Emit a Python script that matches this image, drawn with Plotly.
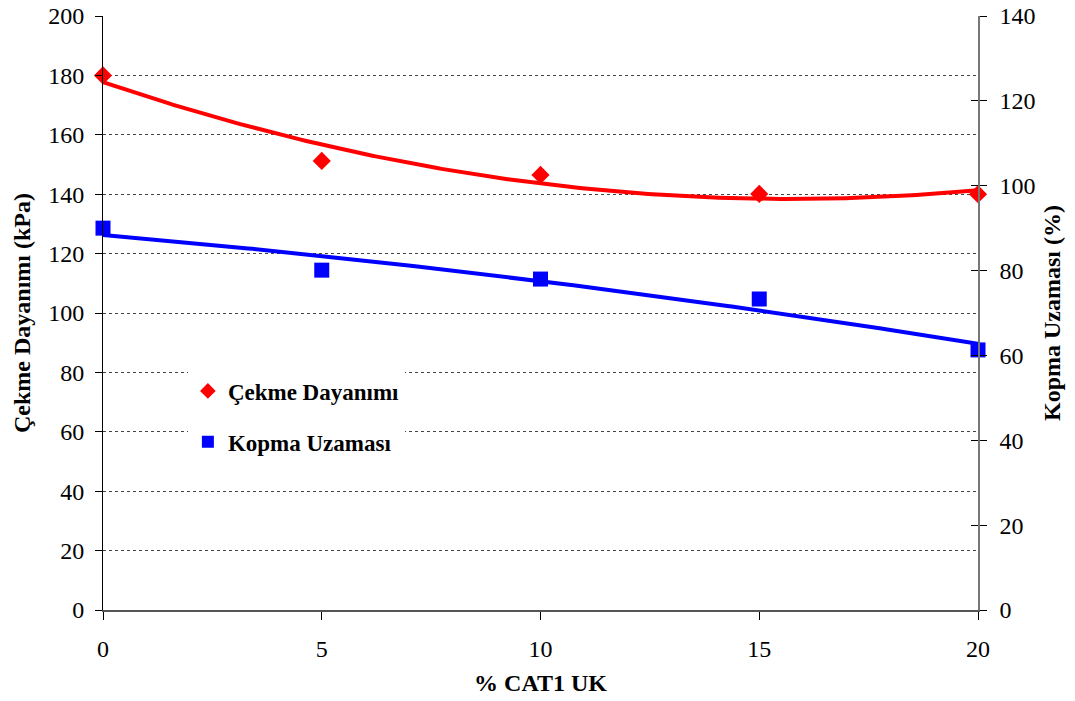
import numpy as np
import plotly.graph_objects as go

# CAT1 UK content (%)
cat1_uk = [0, 5, 10, 15, 20]
# Tensile strength (kPa), left axis
cekme_dayanimi = [180, 151.2, 146.5, 140.1, 140]
# Elongation at break (%), right axis
kopma_uzamasi = [90.0, 80.1, 78.0, 73.3, 61.3]

left_ticks = list(range(0, 201, 20))
right_ticks = list(range(0, 141, 20))
x_ticks = [0, 5, 10, 15, 20]

SERIF = "Liberation Serif, Times New Roman, serif"

# second-order polynomial trendlines
xs = np.linspace(0, 20, 200)
red_fit = np.polyval(np.polyfit(cat1_uk, cekme_dayanimi, 2), xs)
blue_fit = np.polyval(np.polyfit(cat1_uk, kopma_uzamasi, 2), xs)

fig = go.Figure()

fig.add_trace(go.Scatter(x=xs, y=red_fit, mode="lines", line=dict(color="#ff0000", width=4),
                         showlegend=False, hoverinfo="skip", cliponaxis=False))
fig.add_trace(go.Scatter(x=xs, y=blue_fit, mode="lines", line=dict(color="#0000ff", width=4),
                         showlegend=False, hoverinfo="skip", yaxis="y2", cliponaxis=False))

fig.add_trace(go.Scatter(x=cat1_uk, y=cekme_dayanimi, mode="markers", name="Çekme Dayanımı",
                         marker=dict(symbol="diamond", color="#ff0000", size=14),
                         legendgroup="a", cliponaxis=False))
fig.add_trace(go.Scatter(x=cat1_uk, y=kopma_uzamasi, mode="markers", name="Kopma Uzaması",
                         marker=dict(symbol="square", color="#0000ff", size=15),
                         legendgroup="b", yaxis="y2", cliponaxis=False))

# invisible trace to anchor the inner right-axis ticks
fig.add_trace(go.Scatter(x=[None], y=[None], yaxis="y3", showlegend=False, hoverinfo="skip"))

tick_font = dict(family=SERIF, size=24, color="black")
title_font = dict(family=SERIF, size=24, color="black", weight="bold")

fig.update_layout(
    width=1075, height=701,
    margin=dict(l=103, r=97, t=16, b=91),
    paper_bgcolor="white", plot_bgcolor="white",
    font=dict(family=SERIF, size=24, color="black"),
    showlegend=True,
    legend=dict(
        x=0.097, y=0.405, xanchor="left", yanchor="top",
        bgcolor="white", borderwidth=0,
        font=dict(family=SERIF, size=23, color="black", weight="bold"),
        traceorder="grouped", tracegroupgap=18,
        itemsizing="constant",
    ),
    xaxis=dict(
        range=[0, 20], tickvals=x_ticks, ticks="outside", ticklen=8, tickcolor="black",
        showline=True, linecolor="#555555", linewidth=1.5, showgrid=False, zeroline=False,
        tickfont=tick_font, automargin=False, ticklabelstandoff=8,
        title=dict(text="% CAT1 UK", font=title_font, standoff=14),
    ),
    yaxis=dict(
        range=[0, 200], tickvals=left_ticks, ticks="outside", ticklen=7, tickcolor="black",
        showline=True, linecolor="black", linewidth=1, zeroline=False,
        showgrid=True, gridcolor="#444444", griddash="dot", gridwidth=1,
        tickfont=tick_font, automargin=False, ticklabelstandoff=6,
        title=dict(text="Çekme Dayanımı (kPa)", font=title_font, standoff=10),
    ),
    yaxis2=dict(
        range=[0, 140], tickvals=right_ticks, overlaying="y", side="right",
        ticks="outside", ticklen=7, tickcolor="black",
        showline=True, linecolor="#777777", linewidth=1.5, showgrid=False, zeroline=False,
        tickfont=tick_font, automargin=False, ticklabelstandoff=8,
        title=dict(text="Kopma Uzaması (%)", font=title_font, standoff=9),
    ),
    yaxis3=dict(
        range=[0, 140], tickvals=right_ticks, overlaying="y", side="right",
        ticks="inside", ticklen=7, tickcolor="black", showticklabels=False,
        showline=False, showgrid=False, zeroline=False, automargin=False,
    ),
)

fig.write_html("out.html")
